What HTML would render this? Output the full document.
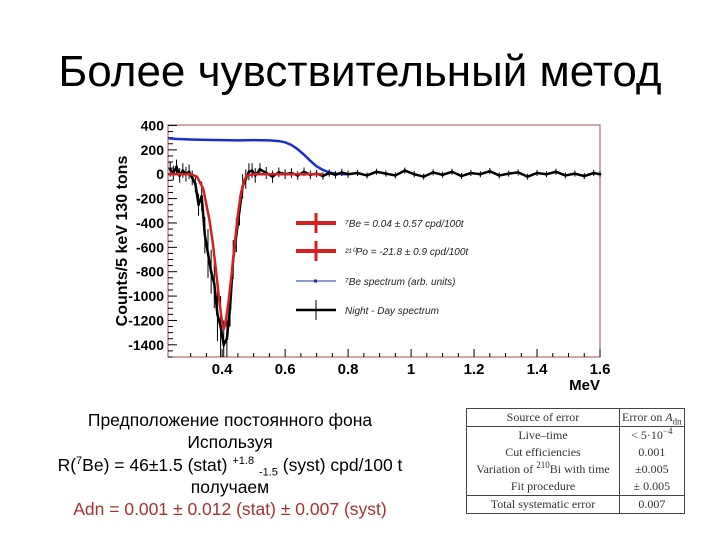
<!DOCTYPE html>
<html><head><meta charset="utf-8"><style>
body{margin:0;background:#fff;width:720px;height:540px;overflow:hidden;font-family:"Liberation Sans",sans-serif;position:relative}
#title{position:absolute;left:0;width:720px;top:47px;text-align:center;font-size:44px;color:#000;white-space:nowrap}
#txt{position:absolute;left:20px;width:420px;top:409px;text-align:center;font-size:17.5px;line-height:22.3px;color:#000}
#txt sup,#txt sub{line-height:0;font-size:11px}
#tbl{position:absolute;left:466px;top:408px;border-collapse:collapse;font-family:"Liberation Serif",serif;font-size:12px;color:#333}
#tbl td{padding:0 2px;height:17px;line-height:17px;text-align:center;white-space:nowrap}
#tbl sup,#tbl sub{line-height:0;font-size:9px}
</style></head><body>
<div id="title">Более чувствительный метод</div>
<svg id="chart" width="720" height="540" style="position:absolute;left:0;top:0"></svg>
<div id="txt">
<div>Предположение постоянного фона</div>
<div>Используя</div>
<div>R(<sup>7</sup>Be) = 46±1.5 (stat) <sup>+1.8</sup> <sub>-1.5</sub> (syst) cpd/100 t</div>
<div>получаем</div>
<div style="color:#a33330">Adn = 0.001 ± 0.012 (stat) ± 0.007 (syst)</div>
</div>
<table id="tbl">
<tr style="border-top:1px solid #444;border-bottom:1px solid #444"><td style="width:148px;border-left:1px solid #444;border-right:1px solid #444">Source of error</td><td style="width:56px;border-right:1px solid #444">Error on <i>A</i><sub>dn</sub></td></tr>
<tr><td style="border-left:1px solid #444;border-right:1px solid #444">Live–time</td><td style="border-right:1px solid #444">&lt; 5·10<sup>−4</sup></td></tr>
<tr><td style="border-left:1px solid #444;border-right:1px solid #444">Cut efficiencies</td><td style="border-right:1px solid #444">0.001</td></tr>
<tr><td style="border-left:1px solid #444;border-right:1px solid #444">Variation of <sup>210</sup>Bi with time</td><td style="border-right:1px solid #444">±0.005</td></tr>
<tr style="border-bottom:1px solid #444"><td style="border-left:1px solid #444;border-right:1px solid #444">Fit procedure</td><td style="border-right:1px solid #444">± 0.005</td></tr>
<tr style="border-bottom:1px solid #444"><td style="border-left:1px solid #444;border-right:1px solid #444">Total systematic error</td><td style="border-right:1px solid #444">0.007</td></tr>
</table>
<script>
const xTicks=[0.4,0.6,0.8,1,1.2,1.4,1.6];
const xTickLabels=["0.4","0.6","0.8","1","1.2","1.4","1.6"];
const yTicks=[400,200,0,-200,-400,-600,-800,-1000,-1200,-1400];
const blueX=[0.23,0.25,0.3,0.35,0.4,0.45,0.5,0.55,0.58,0.6,0.62,0.64,0.66,0.68,0.7,0.72,0.74,0.76,0.78,0.8];
const blueY=[295,290,285,282,280,278,280,278,272,262,240,205,160,110,65,35,15,5,2,0];
const fitX=[0.23,0.3,0.32,0.34,0.36,0.37,0.38,0.39,0.40,0.405,0.41,0.42,0.43,0.44,0.45,0.46,0.47,0.48,0.5,0.72];
const fitY=[0,0,-20,-120,-380,-560,-780,-1020,-1220,-1270,-1230,-1050,-820,-570,-330,-150,-50,-10,0,0];
const dataX=[0.235,0.245,0.255,0.265,0.275,0.285,0.295,0.305,0.315,0.325,0.335,0.345,0.355,0.365,0.375,0.385,0.395,0.405,0.415,0.425,0.435,0.445,0.455,0.465,0.475,0.485,0.495,0.505,0.52,0.54,0.56,0.58,0.6,0.62,0.64,0.66,0.68,0.7,0.72,0.74,0.76,0.78,0.8,0.83,0.86,0.89,0.92,0.95,0.98,1.01,1.04,1.07,1.1,1.13,1.16,1.19,1.22,1.25,1.28,1.31,1.34,1.37,1.4,1.43,1.46,1.49,1.52,1.55,1.58,1.6];
const dataY=[40,10,60,-10,30,0,20,-30,-80,-250,-180,-500,-650,-800,-900,-1150,-1250,-1400,-1350,-1100,-700,-500,-300,-100,-40,20,30,-10,40,10,-20,15,0,10,-10,20,-5,5,-15,10,-5,15,0,10,-10,20,5,-10,30,0,-20,15,-5,20,-15,10,0,25,-10,5,15,-20,10,0,20,-10,5,-15,10,0];
const dataErr=[60,60,60,60,60,60,60,60,70,90,120,150,200,180,200,220,250,200,150,150,160,140,120,100,80,70,60,60,50,50,50,40,40,40,35,35,35,30,30,30,30,30,30,25,25,25,25,25,25,25,25,25,25,25,25,25,25,25,25,25,25,25,25,25,25,25,25,25,25,25];
const NS='http://www.w3.org/2000/svg';
const svg=document.getElementById('chart');
const L=168,R=600,T=125,B=357,XMIN=0.228,XMAX=1.6,YMAX=404,YMIN=-1500;
const sx=v=>L+(v-XMIN)/(XMAX-XMIN)*(R-L);
const sy=v=>T+(YMAX-v)/(YMAX-YMIN)*(B-T);
function el(tag,a,p){const e=document.createElementNS(NS,tag);for(const k in a)e.setAttribute(k,a[k]);(p||svg).appendChild(e);return e;}
const frame=el('rect',{x:L,y:T,width:R-L,height:B-T,fill:'none',stroke:'#a05050','stroke-width':1});


for(let v=0.3;v<=1.6001;v+=0.05){const big=Math.abs(Math.round(v*10)-v*10)<1e-6&&Math.round(v*10)%2==0;
const t=el('line',{x1:sx(v),x2:sx(v),y1:B,y2:B-(big?8:4),stroke:'#000'});

}
xTicks.forEach((v,i)=>{const t=el('text',{x:sx(v),y:B+17,'text-anchor':'middle','font-size':15,'font-weight':'bold','font-family':'Liberation Sans'});t.textContent=xTickLabels[i];

});
for(let v=-1500;v<=400;v+=50){const big=v%200==0;
const t=el('line',{x1:L,x2:L+(big?9:5),y1:sy(v),y2:sy(v),stroke:'#000'});

}
yTicks.forEach(v=>{const t=el('text',{x:L-4,y:sy(v)+5,'text-anchor':'end','font-size':14,'font-weight':'bold','font-family':'Liberation Sans'});t.textContent=String(v);

});
const xt=el('text',{x:R,y:B+33,'text-anchor':'end','font-size':15,'font-weight':'bold','font-family':'Liberation Sans'});xt.textContent='MeV';


const yt=el('text',{x:0,y:0,transform:'translate(127,'+(T+B)/2+') rotate(-90)','text-anchor':'middle','font-size':16,'font-weight':'bold','font-family':'Liberation Sans'});yt.textContent='Counts/5 keV 130 tons';


const bl=el('polyline',{points:blueX.map((x,i)=>sx(x)+','+sy(blueY[i])).join(' '),fill:'none',stroke:'#1a2fcc','stroke-width':2.5});


dataX.forEach((x,i)=>{const g=el('g',{});


el('line',{x1:sx(x),x2:sx(x),y1:Math.max(T,sy(dataY[i]+dataErr[i])),y2:Math.min(B,sy(dataY[i]-dataErr[i])),stroke:'#000','stroke-width':1},g);
el('circle',{cx:sx(x),cy:sy(dataY[i]),r:1.3,fill:'#000'},g);});
const blk=el('polyline',{points:dataX.map((x,i)=>sx(x)+','+sy(dataY[i])).join(' '),fill:'none',stroke:'#000','stroke-width':2.5});


const fl=el('polyline',{points:fitX.map((x,i)=>sx(x)+','+sy(fitY[i])).join(' '),fill:'none',stroke:'#d42020','stroke-width':2.5,'stroke-linejoin':'round'});


const leg=[[223,'red','⁷Be  = 0.04 ± 0.57 cpd/100t'],[251,'red','²¹⁰Po = -21.8 ± 0.9 cpd/100t'],[281,'blue','⁷Be spectrum (arb. units)'],[310,'black','Night - Day spectrum']];
leg.forEach(([y,c,s])=>{const g=el('g',{});


if(c=='red'){el('line',{x1:296,x2:336,y1:y,y2:y,stroke:'#d42020','stroke-width':4},g);el('line',{x1:316,x2:316,y1:y-10,y2:y+10,stroke:'#d42020','stroke-width':3},g);}
else if(c=='blue'){el('line',{x1:296,x2:336,y1:y,y2:y,stroke:'#1a2fa0','stroke-width':1},g);el('rect',{x:314,y:y-1.5,width:3,height:3,fill:'#1a2fa0'},g);}
else{el('line',{x1:296,x2:336,y1:y,y2:y,stroke:'#000','stroke-width':2.5},g);el('line',{x1:316,x2:316,y1:y-10,y2:y+10,stroke:'#000','stroke-width':1},g);}
const t=el('text',{x:345,y:y+4,'font-size':10,'font-style':'italic','font-family':'Liberation Sans',fill:'#222'},g);t.textContent=s;});
</script>
</body></html>
